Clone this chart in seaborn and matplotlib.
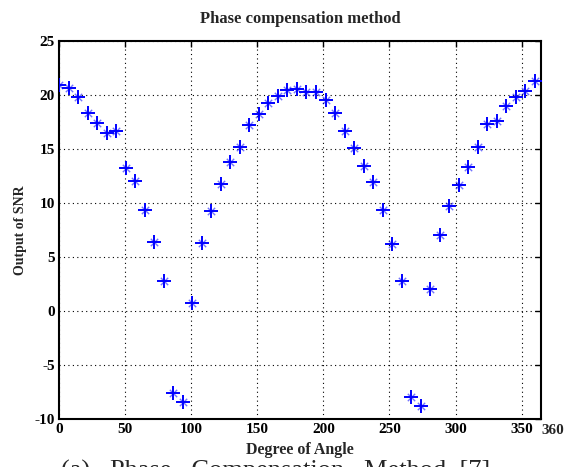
import matplotlib
matplotlib.use("Agg")
import matplotlib.pyplot as plt
import seaborn as sns

angles = [0.0, 7.2, 14.4, 21.6, 28.8, 36.0, 43.2, 50.4, 57.6, 64.8,
          72.0, 79.2, 86.4, 93.6, 100.8, 108.0, 115.2, 122.4, 129.6, 136.8,
          144.0, 151.2, 158.4, 165.6, 172.8, 180.0, 187.2, 194.4, 201.6, 208.8,
          216.0, 223.2, 230.4, 237.6, 244.8, 252.0, 259.2, 266.4, 273.6, 280.8,
          288.0, 295.2, 302.4, 309.6, 316.8, 324.0, 331.2, 338.4, 345.6, 352.8,
          360.0]
snr = [20.9, 20.6, 19.76, 18.35, 17.36, 16.44, 16.68, 13.26, 12.06, 9.38,
       6.39, 2.79, -7.6, -8.43, 0.75, 6.3, 9.29, 11.75, 13.79, 15.2,
       17.17, 18.19, 19.27, 19.86, 20.41, 20.53, 20.29, 20.29, 19.52, 18.31,
       16.68, 15.05, 13.39, 11.97, 9.38, 6.18, 2.79, -7.96, -8.73, 2.05,
       7.04, 9.69, 11.63, 13.29, 15.14, 17.27, 17.6, 18.93, 19.76, 20.38,
       21.24]
xticks = [0, 50, 100, 150, 200, 250, 300, 350]
yticks = [-10, -5, 0, 5, 10, 15, 20, 25]
title = "Phase compensation method"
xlabel = "Degree of Angle"
ylabel = "Output of SNR"
caption = "(a)   Phase   Compensation   Method  [7]"

sns.set_style("white")
plt.rcParams['font.family'] = ['Liberation Serif', 'DejaVu Serif']
plt.rcParams['font.weight'] = 'bold'

fig = plt.figure(figsize=(5.65, 4.67), dpi=100)
ax = fig.add_axes([0.1044, 0.1021, 0.8531, 0.8107])

sns.scatterplot(x=angles, y=snr, ax=ax, marker='x', color='#0000ff',
                s=28, linewidth=1.0, alpha=0.55, zorder=3)
sns.scatterplot(x=angles, y=snr, ax=ax, marker='+', color='#0000ff',
                s=90, linewidth=1.4, zorder=4)

ax.set_xlim(0, 364.6)
ax.set_ylim(-10, 25)
ax.set_xticks(xticks)
ax.set_yticks(yticks)
ax.set_xticklabels([str(t) for t in xticks], fontsize=11, fontweight='bold')
ax.set_yticklabels([str(t) for t in yticks], fontsize=11, fontweight='bold')
ax.text(373.5, -10.45, "360", transform=ax.transData, ha='center', va='top',
        fontsize=11, fontweight='bold', clip_on=False)
ax.tick_params(direction='in', length=4, width=1, top=True, right=True,
               pad=3, colors='black')
ax.grid(True, linestyle=(0, (1, 3)), color='black', linewidth=0.8)
for s in ax.spines.values():
    s.set_linewidth(1.5)
    s.set_color('black')

ax.set_title(title, fontsize=12, fontweight='bold', pad=13)
ax.set_xlabel(xlabel, fontsize=11.5, fontweight='bold', labelpad=4)
ax.set_ylabel(ylabel, fontsize=10, fontweight='bold', labelpad=5)

fig.text(0.108, 0.016, caption, ha='left', va='top', fontsize=19,
         fontweight='normal')

fig.savefig("out.png", dpi=100)
